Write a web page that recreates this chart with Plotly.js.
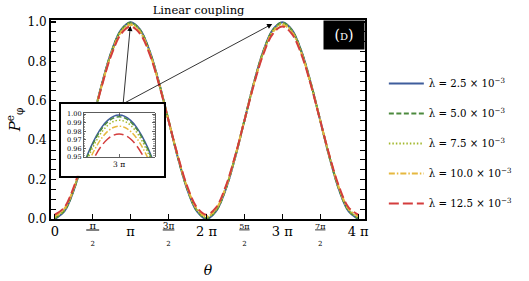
<!DOCTYPE html>
<html>
<head>
<meta charset="utf-8">
<script src="https://cdn.plot.ly/plotly-3.0.1.min.js"></script>
<style>html,body{margin:0;padding:0;background:#fff;}#chart{width:529px;height:281px;}</style>
</head>
<body>
<div id="chart"></div>
<script>
// theta in units of pi
var theta = [0,0.125,0.25,0.375,0.5,0.625,0.75,0.875,1,1.125,1.25,1.375,1.5,1.625,1.75,1.875,2,2.125,2.25,2.375,2.5,2.625,2.75,2.875,3,3.125,3.25,3.375,3.5,3.625,3.75,3.875,4];

var pBlue   = [0.000,0.038,0.146,0.308,0.500,0.691,0.853,0.961,0.999,0.961,0.853,0.691,0.500,0.308,0.146,0.038,0.000,0.038,0.146,0.308,0.500,0.691,0.853,0.961,0.999,0.961,0.853,0.691,0.500,0.308,0.146,0.038,0.000];
var pGreen  = [0.004,0.042,0.149,0.310,0.500,0.690,0.851,0.958,0.997,0.958,0.851,0.690,0.500,0.310,0.149,0.042,0.004,0.042,0.149,0.310,0.500,0.690,0.851,0.958,0.997,0.958,0.851,0.690,0.500,0.310,0.149,0.042,0.004];
var pOlive  = [0.008,0.045,0.152,0.312,0.500,0.688,0.848,0.955,0.993,0.955,0.848,0.688,0.500,0.312,0.152,0.045,0.008,0.045,0.152,0.312,0.500,0.688,0.848,0.955,0.993,0.955,0.848,0.688,0.500,0.312,0.152,0.045,0.008];
var pYellow = [0.014,0.051,0.156,0.314,0.500,0.686,0.843,0.949,0.986,0.949,0.843,0.686,0.500,0.314,0.156,0.051,0.014,0.051,0.156,0.314,0.500,0.686,0.843,0.949,0.986,0.949,0.843,0.686,0.500,0.314,0.156,0.051,0.014];
var pRed    = [0.022,0.058,0.162,0.317,0.499,0.682,0.837,0.940,0.977,0.940,0.837,0.682,0.499,0.317,0.162,0.058,0.022,0.058,0.162,0.317,0.499,0.682,0.837,0.940,0.977,0.940,0.837,0.682,0.499,0.317,0.162,0.058,0.022];

// inset: zoom around theta = 3 pi
var thetaInset = [2.825,2.85,2.875,2.9,2.925,2.95,2.975,3,3.025,3.05,3.075,3.1,3.125,3.15,3.175];
var iBlue   = [0.9254,0.9446,0.9610,0.9745,0.9852,0.9928,0.9975,0.9990,0.9975,0.9928,0.9852,0.9745,0.9610,0.9446,0.9254];
var iGreen  = [0.9239,0.9429,0.9592,0.9727,0.9833,0.9909,0.9955,0.9970,0.9955,0.9909,0.9833,0.9727,0.9592,0.9429,0.9239];
var iOlive  = [0.9205,0.9394,0.9556,0.9689,0.9794,0.9870,0.9915,0.9930,0.9915,0.9870,0.9794,0.9689,0.9556,0.9394,0.9205];
var iYellow = [0.9145,0.9331,0.9490,0.9622,0.9726,0.9800,0.9845,0.9860,0.9845,0.9800,0.9726,0.9622,0.9490,0.9331,0.9145];
var iRed    = [0.9067,0.9250,0.9407,0.9536,0.9638,0.9711,0.9755,0.9770,0.9755,0.9711,0.9638,0.9536,0.9407,0.9250,0.9067];

var labels = ['λ = 2.5 × 10<sup>−3</sup>','λ = 5.0 × 10<sup>−3</sup>','λ = 7.5 × 10<sup>−3</sup>','λ = 10.0 × 10<sup>−3</sup>','λ = 12.5 × 10<sup>−3</sup>'];
var xTickVals = [0,1,2,3,4];
var xTickText = ['0','π','2 π','3 π','4 π'];
var xFracVals = [0.5,1.5,2.5,3.5];
var xFracText = [
  '<u><span style="font-size:10px"> π </span></u><br><span style="font-size:7px">2</span>',
  '<u><span style="font-size:9px">3π</span></u><br><span style="font-size:7px">2</span>',
  '<u><span style="font-size:8px">5π</span></u><br><span style="font-size:7px">2</span>',
  '<u><span style="font-size:8px">7π</span></u><br><span style="font-size:7px">2</span>'];

var SERIF = 'DejaVu Serif, serif';
var colors = ['#3f5d9c','#4c8a3e','#a3b82e','#e6b83f','#d43d3d'];
var dashes = ['solid','5px,2.5px','1.5px,2px','6px,2px,1.5px,2px','10px,4px'];
var mainY = [pBlue,pGreen,pOlive,pYellow,pRed];
var insetY = [iBlue,iGreen,iOlive,iYellow,iRed];

var traces = [];
for (var i=0;i<5;i++){
  traces.push({x:theta, y:mainY[i], mode:'lines', name:labels[i], legendgroup:'g'+i,
    line:{color:colors[i], width:2, dash:dashes[i], shape:'spline'}, xaxis:'x', yaxis:'y'});
}
traces.push({x:[], y:[], mode:'lines', showlegend:false, xaxis:'x2', yaxis:'y2'});
for (var j=0;j<5;j++){
  traces.push({x:thetaInset, y:insetY[j], mode:'lines', showlegend:false,
    line:{color:colors[j], width:1.5, dash:dashes[j], shape:'spline'}, xaxis:'x3', yaxis:'y3'});
}
traces.push({x:[], y:[], mode:'lines', showlegend:false, xaxis:'x4', yaxis:'y'});

var layout = {
  width:529, height:281,
  margin:{l:51, r:158, t:20, b:62},
  paper_bgcolor:'white', plot_bgcolor:'white',
  font:{family:SERIF, color:'black'},
  title:{text:'Linear coupling', font:{family:SERIF, size:11.5}, xref:'paper', x:0.47, xanchor:'center', y:0.965, yanchor:'middle'},
  showlegend:true,
  legend:{x:1.06, xanchor:'left', y:0.38, yanchor:'middle', font:{family:SERIF, size:10.2}, tracegroupgap:11,
    bgcolor:'rgba(0,0,0,0)', itemwidth:35},
  xaxis:{domain:[0,1], range:[-0.05,4.09], tickmode:'array', tickvals:xTickVals, ticktext:xTickText,
    ticks:'inside', ticklen:5, tickwidth:1.3, tickcolor:'black', showline:true, linewidth:2, linecolor:'black', mirror:true,
    showgrid:false, zeroline:false, tickfont:{family:SERIF, size:13}, ticklabelstandoff:-1,
    title:{text:'<i>θ</i>', font:{family:SERIF, size:14}, standoff:28}},
  xaxis4:{overlaying:'x', anchor:'y', side:'bottom', range:[-0.05,4.09], tickmode:'array', tickvals:xFracVals, ticktext:xFracText,
    ticks:'inside', ticklen:5, tickwidth:1.3, tickcolor:'black', showline:false,
    showgrid:false, zeroline:false, tickfont:{family:SERIF, size:13.5}, ticklabelstandoff:-5},
  yaxis:{domain:[0,1], range:[0,1.01], tickmode:'array', tickvals:[0,0.2,0.4,0.6,0.8,1.0], ticktext:['0.0','0.2','0.4','0.6','0.8','1.0'],
    ticks:'inside', ticklen:5, tickwidth:1.3, tickcolor:'black', showline:true, linewidth:2, linecolor:'black', mirror:'allticks',
    minor:{dtick:0.05, ticks:'inside', ticklen:3, tickwidth:1, tickcolor:'black'},
    showgrid:false, zeroline:false, tickfont:{family:SERIF, size:12},
    title:{text:'<i>P</i><sup>e</sup><sub>φ</sub>', font:{family:SERIF, size:15}, standoff:3}},
  xaxis2:{domain:[0.031,0.359], anchor:'y2', range:[0,1], showline:true, linewidth:2, linecolor:'black', mirror:true,
    ticks:'', showticklabels:false, showgrid:false, zeroline:false, fixedrange:true},
  yaxis2:{domain:[0.217,0.579], anchor:'x2', range:[0,1], showline:true, linewidth:2, linecolor:'black', mirror:true,
    ticks:'', showticklabels:false, showgrid:false, zeroline:false, fixedrange:true},
  xaxis3:{domain:[0.104,0.330], anchor:'y3', range:[2.845,3.155], tickmode:'array', tickvals:[3], ticktext:['3 π'],
    ticks:'inside', ticklen:3, tickwidth:0.8, showline:true, linewidth:0.8, linecolor:'#333', mirror:'ticks',
    showgrid:false, zeroline:false, tickfont:{family:SERIF, size:7.5}},
  yaxis3:{domain:[0.311,0.532], anchor:'x3', range:[0.95,1.0012], tickmode:'array', tickvals:[0.95,0.96,0.97,0.98,0.99,1.00],
    ticktext:['0.95','0.96','0.97','0.98','0.99','1.00'],
    ticks:'inside', ticklen:2.5, tickwidth:0.8, showline:true, linewidth:0.8, linecolor:'#333', mirror:'ticks',
    minor:{dtick:0.002, ticks:'inside', ticklen:1.5, tickwidth:0.5},
    showgrid:false, zeroline:false, tickfont:{family:SERIF, size:6.5}},
  annotations:[
    {xref:'paper', yref:'paper', x:1, y:1, xanchor:'right', yanchor:'top', showarrow:false,
     text:'(<span style="font-size:10px">D</span>)', font:{family:SERIF, size:14, color:'white'},
     bgcolor:'black', width:40, height:28, borderpad:0},
    {xref:'x', yref:'y', axref:'x', ayref:'y', x:0.996, y:0.98, ax:0.901, ay:0.585, text:'', showarrow:true,
     arrowhead:2, arrowsize:1.3, arrowwidth:0.8, arrowcolor:'black'},
    {xref:'x', yref:'y', axref:'x', ayref:'y', x:2.867, y:0.99, ax:0.901, ay:0.585, text:'', showarrow:true,
     arrowhead:2, arrowsize:1.3, arrowwidth:0.8, arrowcolor:'black'}
  ]
};

Plotly.newPlot('chart', traces, layout, {staticPlot:true, displayModeBar:false});
</script>
</body>
</html>
